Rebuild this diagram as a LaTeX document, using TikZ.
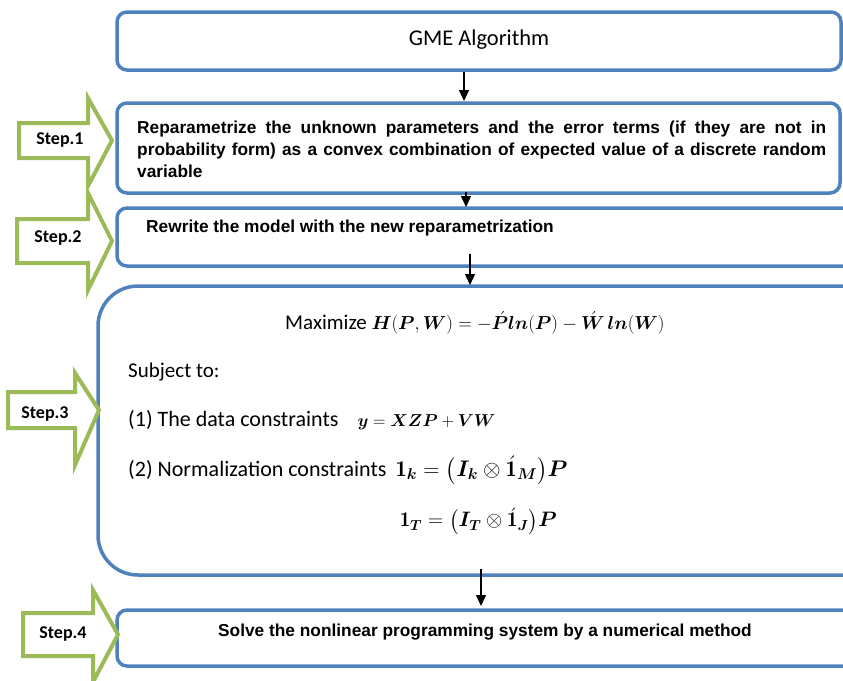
\documentclass[tikz,border=0pt]{standalone}
\usepackage{amsmath}
\usepackage{bm}
\usepackage{graphicx}
\usepackage{fontspec}
\newfontfamily\calibri{Carlito}
\newfontfamily\arialfont{Liberation Sans}
\usetikzlibrary{arrows.meta}
\definecolor{boxblue}{HTML}{4F81BD}
\definecolor{stepgreen}{HTML}{9BBB59}
\tikzset{
  procbox/.style={draw=boxblue, line width=3.5pt, rounded corners=10pt, fill=white},
  bigbox/.style={draw=boxblue, line width=3.5pt, rounded corners=40pt, fill=white},
  flow/.style={-{Triangle[length=11pt,width=10pt]}, line width=1.2pt, black},
  steparrow/.style={draw=stepgreen, line width=4pt, fill=white, line join=miter},
  steptext/.style={font=\calibri\bfseries\fontsize{18}{20}\selectfont},
  desc/.style={font=\arialfont\bfseries\fontsize{17.3}{22}\selectfont, anchor=west, inner sep=0pt},
  plain/.style={font=\calibri\fontsize{21}{24}\selectfont, anchor=west, inner sep=0pt},
  plainwide/.style={font=\calibri\fontsize{22}{24}\selectfont, anchor=west, inner sep=0pt},
}
% formula set at 17.28pt and brought to the given width
\newcommand{\mth}[2]{{\fontsize{17.28}{24}\selectfont\resizebox{#1}{!}{$#2$}}}
% one justified line of the given width
\newcommand{\jline}[1]{\makebox[689pt][s]{#1}}
\newcommand{\stepshape}[7]{%
  % #1 left, #2 top of shaft, #3 bottom of shaft, #4 head base x, #5 head top, #6 head bottom, #7 tip x
  \path[steparrow] (#1,#2) -- (#4,#2) -- (#4,#5) -- (#7,{(#2+#3)/2}) -- (#4,#6) -- (#4,#3) -- (#1,#3) -- cycle;}
\begin{document}
\begin{tikzpicture}[x=1pt,y=-1pt]
\useasboundingbox (0,0) rectangle (843,680);
\clip (0,0) rectangle (843,680);
\fill[white] (0,0) rectangle (843,680);

% process boxes
\draw[procbox] (117,12) rectangle (841,70);
\node[font=\calibri\fontsize{22.5}{26}\selectfont] (gme) at (479,40) {GME Algorithm};

\draw[procbox] (117,103) rectangle (840,193);
\node[desc, align=left] (repar) at (137,149)
  {\jline{Reparametrize the unknown parameters and the error terms (if they are not in}\\
   \jline{probability form) as a convex combination of expected value of a discrete random}\\
   variable};

\draw[procbox] (117,208) rectangle (860,266);
\node[desc] (rewrite) at (146,228) {Rewrite the model with the new reparametrization};

\draw[bigbox] (98,286) rectangle (890,575);

\draw[procbox] (117,610) rectangle (860,666);
\node[desc] (solve) at (218,632) {Solve the nonlinear programming system by a numerical method};

% connectors between the boxes
\coordinate (a1s) at (464,72);  \coordinate (a1e) at (464,101);
\coordinate (a2s) at (466,192); \coordinate (a2e) at (466,207);
\coordinate (a3s) at (470,254); \coordinate (a3e) at (470,285);
\coordinate (a4s) at (481,569); \coordinate (a4e) at (481,606);
\draw[flow] (a1s) -- (a1e);
\draw[flow] (a2s) -- (a2e);
\draw[flow] (a3s) -- (a3e);
\draw[flow] (a4s) -- (a4e);

% optimisation problem
\node[plain] (maxz) at (285,323) {Maximize \mth{293pt}{\bm{H}(\bm{P},\bm{W}) = -\acute{\bm{P}}\bm{ln}(\bm{P}) - \acute{\bm{W}}\,\bm{ln}(\bm{W})}};
\node[plain] (subj) at (128,372) {Subject to:};
\node[plainwide] (c1) at (128,420) {(1) The data constraints\hspace{19pt}\mth{138pt}{\bm{y} = \bm{X}\bm{Z}\bm{P} + \bm{V}\bm{W}}};
\node[plainwide] (c2) at (128,470) {(2) Normalization constraints\hspace{9pt}\mth{172pt}{\mathbf{1}_{\bm{k}} = \bigl(\bm{I}_{\bm{k}}\otimes\acute{\mathbf{1}}_{\bm{M}}\bigr)\bm{P}}};
\node[plain, anchor=east] (c3) at (557,521) {\mth{157pt}{\mathbf{1}_{\bm{T}} = \bigl(\bm{I}_{\bm{T}}\otimes\acute{\mathbf{1}}_{\bm{J}}\bigr)\bm{P}}};

% step arrows
\stepshape{19}{123}{158}{88}{98}{186}{112}
\node[steptext] (s1) at (60,140) {Step.1};
\stepshape{17}{219}{263}{88}{193}{290}{112}
\node[steptext] (s2) at (58,238) {Step.2};
\stepshape{8}{392}{428}{75}{373}{465}{99}
\node[steptext] (s3) at (45,414) {Step.3};
\stepshape{23}{613}{656}{93}{590}{682}{118}
\node[steptext] (s4) at (63,634) {Step.4};
\end{tikzpicture}
\end{document}
